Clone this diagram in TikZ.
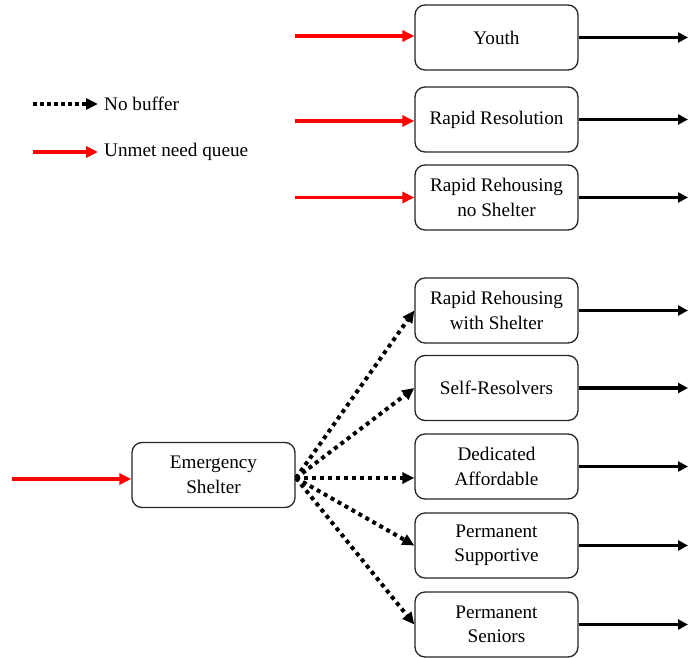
\documentclass[tikz,border=0pt]{standalone}
\usepackage{fontspec}
\setmainfont{Liberation Serif}
\usetikzlibrary{arrows.meta,positioning}

\tikzset{
  stage/.style={draw=black!85,line width=1.3pt,rounded corners=10pt,fill=white,minimum width=163pt,minimum height=65pt,align=center,font=\fontsize{19.2}{24.5}\selectfont,inner sep=2pt},
  queue/.style={draw=red,line width=3.3pt,-{Triangle[length=12pt,width=11pt]}},
  nobuf/.style={draw=black,line width=4pt,dash pattern=on 4pt off 4pt,-{Triangle[length=12pt,width=11pt]}},
  outflow/.style={draw=black,line width=3.5pt,-{Triangle[length=10pt,width=10pt]}},
  legtext/.style={anchor=west,font=\fontsize{19.2}{21}\selectfont,inner sep=0pt}
}

\begin{document}
\begin{tikzpicture}[x=1pt,y=-1pt]
\useasboundingbox (0,0) rectangle (688,658);
% legend
\coordinate (lg0) at (33,104);
\coordinate (lg1) at (33,152);
\node[legtext] (nobuftxt) at (104,104) {No buffer};
\node[legtext] (queuetxt) at (104,152) {Unmet need queue};
\draw[nobuf,line width=3.5pt,dash pattern=on 3.5pt off 3.5pt] (lg0)--([xshift=-6pt]nobuftxt.west);
\draw[queue] (lg1)--([xshift=-6pt]queuetxt.west);
% programs without shelter
\node[stage] (yth) at (496.5,37.5) {Youth};
\node[stage] (rr) at (496.5,119.5) {Rapid Resolution};
\node[stage] (rrns) at (496.5,197.5) {Rapid Rehousing\\no Shelter};
% programs fed from shelter
\node[stage] (rrws) at (496.5,310.5) {Rapid Rehousing\\with Shelter};
\node[stage] (slf) at (496.5,388) {Self-Resolvers};
\node[stage] (ded) at (496.5,466.5) {Dedicated\\Affordable};
\node[stage] (psh) at (496.5,545.5) {Permanent\\Supportive};
\node[stage] (psn) at (496.5,624.5) {Permanent\\Seniors};
\node[stage] (es) at (213.5,475) {Emergency\\Shelter};
% queue entries
\coordinate (in0) at (295,36);
\coordinate (in1) at (295,121);
\coordinate (in2) at (295,197.5);
\coordinate (in3) at (12,479);
\draw[queue] (in0)--(yth.west |- in0);
\draw[queue] (in1)--(rr.west |- in1);
\draw[queue] (in2)--(rrns.west);
\draw[queue] (in3)--(es.west |- in3);
% shelter exits
\coordinate (esx) at (296,478);
\draw[nobuf] (esx)--(rrws.west);
\draw[nobuf] (esx)--(slf.west);
\draw[nobuf] (esx)--(esx -| ded.west);
\draw[nobuf] (esx)--(psh.west);
\draw[nobuf] (esx)--(psn.west);
% exits
\foreach \b in {yth,rr,rrns,rrws,slf,ded,psh,psn}
  \draw[outflow] (\b.east)--(\b.east -| 688,0);
\end{tikzpicture}
\end{document}
